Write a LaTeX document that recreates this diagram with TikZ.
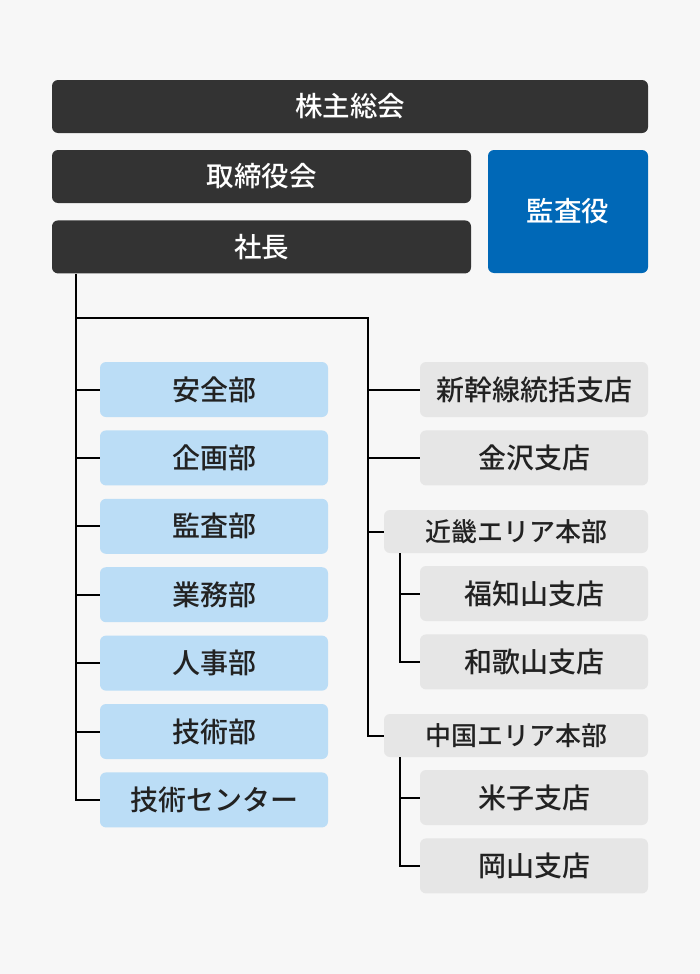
\documentclass[tikz,border=0pt]{standalone}
\usepackage{fontspec}
\setmainfont{Noto Sans CJK JP}[UprightFont={* Medium}]
\usepackage{tikz}
\usetikzlibrary{positioning}
\definecolor{pagebg}{HTML}{F7F7F7}
\definecolor{board}{HTML}{333333}
\definecolor{auditor}{HTML}{0068B7}
\definecolor{dept}{HTML}{BBDDF6}
\definecolor{branch}{HTML}{E6E6E6}
\definecolor{ink}{HTML}{222222}

\begin{document}
\begin{tikzpicture}[
    x=1pt, y=-1pt,
    node distance=13pt,
    boardbox/.style={
        rectangle, rounded corners=6pt, fill=board, text=white,
        minimum height=53pt, inner sep=0pt,
        font=\fontsize{27.5}{31}\selectfont
    },
    auditbox/.style={
        boardbox, fill=auditor, minimum width=160pt, minimum height=123pt
    },
    deptbox/.style={
        rectangle, rounded corners=6pt, fill=dept, text=ink,
        minimum width=228pt, minimum height=55pt, inner sep=0pt,
        font=\fontsize{28}{32}\selectfont
    },
    branchbox/.style={
        deptbox, fill=branch
    },
    areabox/.style={
        branchbox, minimum width=264pt, minimum height=43pt,
        font=\fontsize{26}{30}\selectfont
    },
    link/.style={line width=2pt, black},
]

\useasboundingbox[fill=pagebg] (0,0) rectangle (700,974);

\node[boardbox, minimum width=596pt] (meeting) at (350,106.5) {株主総会};
\node[boardbox, minimum width=419pt] (board) at (261.5,176.5) {取締役会};
\node[boardbox, minimum width=419pt, below=17pt of board] (president) {社長};
\node[auditbox] (auditors) at (568,211.5) {監査役};

% ── Departments ──────
\node[deptbox] (safety) at (214,389.5) {安全部};
\node[deptbox, below=of safety] (planning) {企画部};
\node[deptbox, below=of planning] (audit) {監査部};
\node[deptbox, below=of audit] (business) {業務部};
\node[deptbox, below=of business] (personnel) {人事部};
\node[deptbox, below=of personnel] (tech) {技術部};
\node[deptbox, below=of tech] (techcenter) {技術センター};

% ── Branches ──────
\node[branchbox] (shinkansen) at (534,389.5) {新幹線統括支店};
\node[branchbox, below=of shinkansen] (kanazawa) {金沢支店};
\node[areabox] (kinki) at (516,531.5) {近畿エリア本部};
\node[branchbox] (fukuchiyama) at (534,593.5) {福知山支店};
\node[branchbox, below=of fukuchiyama] (wakayama) {和歌山支店};
\node[areabox] (chugoku) at (516,735.5) {中国エリア本部};
\node[branchbox] (yonago) at (534,797.5) {米子支店};
\node[branchbox, below=of yonago] (okayama) {岡山支店};

\coordinate (trunk) at ([xshift=24pt]president.south west);
\coordinate (split) at (368,318);
\coordinate (kinkiroot) at ([xshift=16pt]kinki.south west);
\coordinate (chugokuroot) at ([xshift=16pt]chugoku.south west);

% ── President to departments ──────
\draw[link] (trunk) |- (techcenter.west);
\draw[link] (trunk |- safety.west) -- (safety.west);
\draw[link] (trunk |- planning.west) -- (planning.west);
\draw[link] (trunk |- audit.west) -- (audit.west);
\draw[link] (trunk |- business.west) -- (business.west);
\draw[link] (trunk |- personnel.west) -- (personnel.west);
\draw[link] (trunk |- tech.west) -- (tech.west);

% ── President to branches ──────
\draw[link] (trunk |- split) -- (split) |- (chugoku.west);
\draw[link] (split |- shinkansen.west) -- (shinkansen.west);
\draw[link] (split |- kanazawa.west) -- (kanazawa.west);
\draw[link] (split |- kinki.west) -- (kinki.west);

% ── Area offices ──────
\draw[link] (kinkiroot) |- (wakayama.west);
\draw[link] (kinkiroot |- fukuchiyama.west) -- (fukuchiyama.west);
\draw[link] (chugokuroot) |- (okayama.west);
\draw[link] (chugokuroot |- yonago.west) -- (yonago.west);

\end{tikzpicture}
\end{document}
